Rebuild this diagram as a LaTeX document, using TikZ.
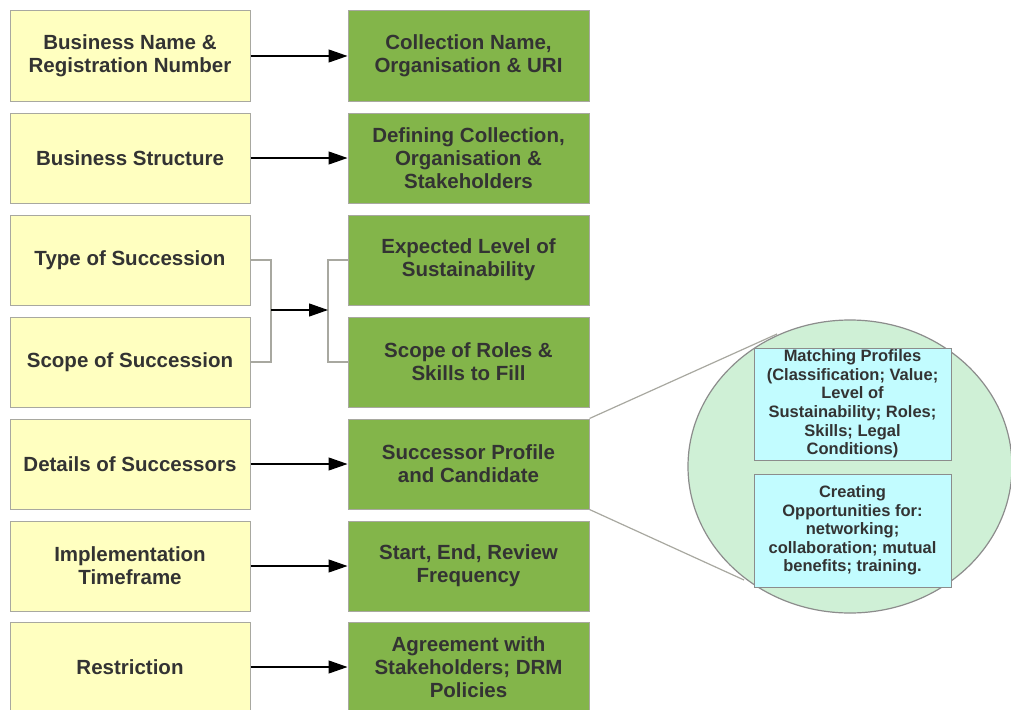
\documentclass[tikz,border=0pt]{standalone}
\usepackage{fontspec}
\setmainfont{Liberation Sans}
\usetikzlibrary{arrows.meta,shapes.geometric}

\definecolor{boxyellow}{HTML}{FFFFC0}
\definecolor{boxgreen}{HTML}{83B54A}
\definecolor{zoomfill}{HTML}{CFF0D6}
\definecolor{detailcyan}{HTML}{C2FCFF}
\definecolor{edgegray}{HTML}{A8A8A0}
\definecolor{rimgray}{HTML}{8C8C8C}
\definecolor{inktext}{HTML}{333333}

\begin{document}
\begin{tikzpicture}[x=1pt,y=-1pt,
  base/.style={rectangle, draw=edgegray, line width=1pt, minimum width=240pt,
    minimum height=90pt, inner sep=0pt, align=center, text=inktext,
    font=\bfseries\fontsize{20.5}{23}\selectfont},
  source/.style={base, fill=boxyellow},
  target/.style={base, fill=boxgreen, minimum width=241pt},
  detail/.style={rectangle, draw=rimgray, line width=1pt, fill=detailcyan,
    minimum width=197pt, inner sep=0pt, align=center, text=inktext,
    font=\bfseries\fontsize{16.5}{18.6}\selectfont},
  link/.style={-{Triangle[length=19pt,width=13pt]}, line width=1.2pt, black},
  bracket/.style={draw=edgegray, line width=1.2pt},
  guide/.style={draw=edgegray, line width=1.2pt}
]
\useasboundingbox (0,0) rectangle (1011,709);
\clip (0,0) rectangle (1011,709);
\fill[white] (0,0) rectangle (1011,709);

% left column: inputs
\node[source] (s1) at (130,56)  {Business Name \&\\Registration Number};
\node[source] (s2) at (130,158) {Business Structure};
\node[source] (s3) at (130,260) {Type of Succession};
\node[source] (s4) at (130,362) {Scope of Succession};
\node[source] (s5) at (130,464) {Details of Successors};
\node[source] (s6) at (130,566) {Implementation\\Timeframe};
\node[source] (s7) at (130,667) {Restriction};

% right column: outputs
\node[target] (t1) at (468.5,56)  {Collection Name,\\Organisation \& URI};
\node[target] (t2) at (468.5,158) {Defining Collection,\\Organisation \&\\Stakeholders};
\node[target] (t3) at (468.5,260) {Expected Level of\\Sustainability};
\node[target] (t4) at (468.5,362) {Scope of Roles \&\\Skills to Fill};
\node[target] (t5) at (468.5,464) {Successor Profile\\and Candidate};
\node[target] (t6) at (468.5,566) {Start, End, Review\\Frequency};
\node[target] (t7) at (468.5,667) {Agreement with\\Stakeholders; DRM\\Policies};

% one-to-one links
\draw[link] (s1.east) -- (t1.west);
\draw[link] (s2.east) -- (t2.west);
\draw[link] (s5.east) -- (t5.west);
\draw[link] (s6.east) -- (t6.west);
\draw[link] (s7.east) -- (t7.west);

% grouped link between rows three and four
\coordinate (jl) at (271,310);
\coordinate (jr) at (328,310);
\draw[bracket] (s3.east) -| (jl) |- (s4.east);
\draw[bracket] (t3.west) -| (jr) |- (t4.west);
\draw[link] (jl) -- (jr);

% magnified detail of the successor profile
\coordinate (zt) at (777,334);
\coordinate (zb) at (744,580);
\draw[guide] (t5.north east) -- (zt);
\draw[guide] (t5.south east) -- (zb);
\node[ellipse, draw=rimgray, line width=1.2pt, fill=zoomfill, minimum width=324pt,
  minimum height=293pt, inner sep=0pt] (zoom) at (850,466.5) {};

\node[detail, minimum height=112pt] (d1) at (852.5,404)
  {Matching Profiles\\(Classification; Value;\\Level of\\Sustainability; Roles;\\Skills; Legal\\Conditions)};
\node[detail, minimum height=113pt] (d2) at (852.5,530.5)
  {Creating\\Opportunities for:\\networking;\\collaboration; mutual\\benefits; training.};
\end{tikzpicture}
\end{document}
